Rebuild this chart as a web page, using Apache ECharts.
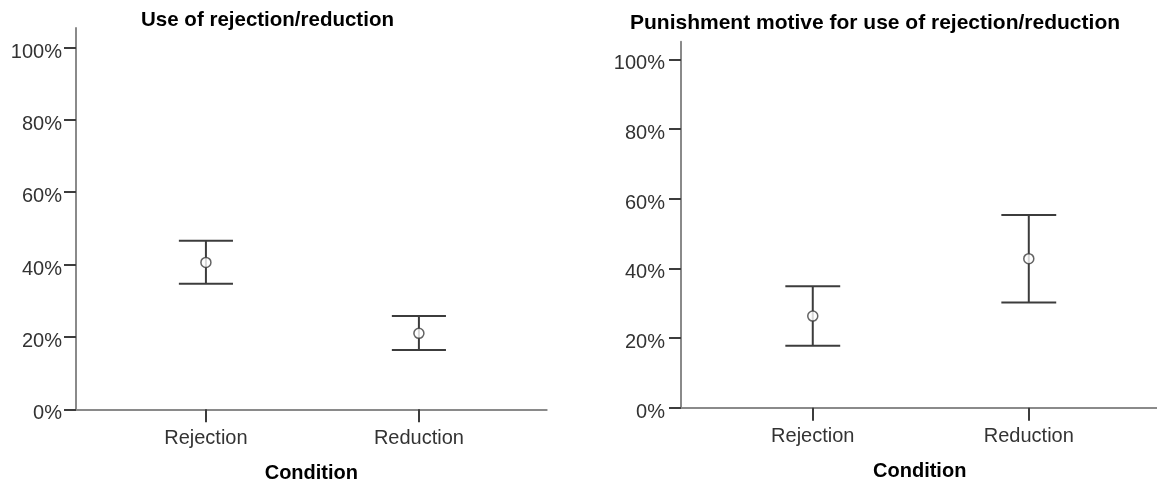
<!DOCTYPE html>
<html>
<head>
<meta charset="utf-8">
<script src="https://cdn.jsdelivr.net/npm/echarts@6/dist/echarts.min.js"></script>
<style>
html,body{margin:0;padding:0;background:#fff;}
#chart{width:1157px;height:484px;}
</style>
</head>
<body>
<div id="chart"></div>
<script>
// ---- data ----
const categories = ['Rejection', 'Reduction'];
const yTicks = [0, 20, 40, 60, 80, 100];
const titles = ['Use of rejection/reduction', 'Punishment motive for use of rejection/reduction'];
const xAxisName = 'Condition';
// panel 1: Use of rejection/reduction (percent)
const useMean  = [40.6, 21.0];
const useLower = [34.7, 16.4];
const useUpper = [46.6, 25.8];
// panel 2: Punishment motive (percent)
const punMean  = [26.3, 42.8];
const punLower = [17.8, 30.2];
const punUpper = [34.9, 55.3];

const FONT = 'Liberation Sans, Arial, sans-serif';
const AXIS_GRAY = '#8a8a8a';
const DARK = '#3c3c3c';

function errData(lower, upper) {
  return categories.map((c, i) => [i, lower[i], upper[i]]);
}
function meanData(mean) {
  return categories.map((c, i) => [i, mean[i]]);
}
function renderErr(params, api) {
  const x = api.value(0);
  const lo = api.coord([x, api.value(1)]);
  const hi = api.coord([x, api.value(2)]);
  const hw = 0.127 * (api.coord([1, 0])[0] - api.coord([0, 0])[0]);
  const style = {stroke: DARK, lineWidth: 2, fill: null};
  return {
    type: 'group',
    children: [
      {type: 'line', shape: {x1: lo[0], y1: lo[1], x2: hi[0], y2: hi[1]}, style: style},
      {type: 'line', shape: {x1: hi[0] - hw, y1: hi[1], x2: hi[0] + hw, y2: hi[1]}, style: style},
      {type: 'line', shape: {x1: lo[0] - hw, y1: lo[1], x2: lo[0] + hw, y2: lo[1]}, style: style}
    ]
  };
}
function xAxisOpt(gi) {
  return {
    type: 'value', gridIndex: gi, min: -0.61, max: 1.6,
    splitLine: {show: false},
    axisLine: {show: true, onZero: false, lineStyle: {color: AXIS_GRAY, width: 2}},
    axisTick: {show: true, customValues: [0, 1], length: 13, lineStyle: {color: DARK, width: 2}},
    axisLabel: {customValues: [0, 1], formatter: v => categories[Math.round(v)] || '',
      fontFamily: FONT, fontSize: 20, color: '#333', margin: 19},
    name: xAxisName, nameLocation: 'middle', nameGap: 54,
    nameTextStyle: {fontFamily: FONT, fontSize: 20, fontWeight: 'bold', color: '#000'}
  };
}
function yAxisOpt(gi, max, margin) {
  return {
    type: 'value', gridIndex: gi, min: 0, max: max,
    splitLine: {show: false},
    axisLine: {show: true, onZero: false, lineStyle: {color: AXIS_GRAY, width: 2}},
    axisTick: {show: true, customValues: yTicks, length: 12, lineStyle: {color: DARK, width: 2}},
    axisLabel: {customValues: yTicks, formatter: v => v + '%', fontFamily: FONT, fontSize: 20,
      color: '#333', margin: margin, verticalAlign: 'top', lineHeight: 9}
  };
}

const chart = echarts.init(document.getElementById('chart'), null, {renderer: 'canvas'});
chart.setOption({
  animation: false,
  backgroundColor: '#fff',
  title: [
    {text: titles[0], left: 262.5, top: 5, textAlign: 'center',
      textStyle: {fontFamily: FONT, fontSize: 20.5, fontWeight: 'bold', color: '#000'}},
    {text: titles[1], left: 870, top: 8, textAlign: 'center',
      textStyle: {fontFamily: FONT, fontSize: 21, fontWeight: 'bold', color: '#000'}}
  ],
  grid: [
    {left: 76, top: 28, width: 470.7, height: 381.3, outerBoundsMode: 'none', containLabel: false},
    {left: 681, top: 41.7, width: 477.4, height: 366, outerBoundsMode: 'none', containLabel: false}
  ],
  xAxis: [xAxisOpt(0), xAxisOpt(1)],
  yAxis: [yAxisOpt(0, 105.4, 14), yAxisOpt(1, 105.1, 16)],
  series: [
    {type: 'custom', xAxisIndex: 0, yAxisIndex: 0, data: errData(useLower, useUpper), renderItem: renderErr, z: 2},
    {type: 'scatter', xAxisIndex: 0, yAxisIndex: 0, data: meanData(useMean), symbol: 'circle', symbolSize: 10,
      itemStyle: {color: '#fff', borderColor: DARK, borderWidth: 1.5}, z: 3},
    {type: 'custom', xAxisIndex: 1, yAxisIndex: 1, data: errData(punLower, punUpper), renderItem: renderErr, z: 2},
    {type: 'scatter', xAxisIndex: 1, yAxisIndex: 1, data: meanData(punMean), symbol: 'circle', symbolSize: 10,
      itemStyle: {color: '#fff', borderColor: DARK, borderWidth: 1.5}, z: 3}
  ]
});
</script>
</body>
</html>
